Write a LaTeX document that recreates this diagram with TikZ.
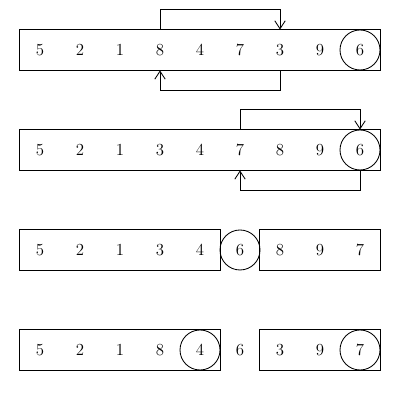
\documentclass[tikz,border=0pt]{standalone}
\usetikzlibrary{positioning,arrows.meta,fit}

\begin{document}
\begin{tikzpicture}[
    semithick, font=\large,
    cell/.style={minimum size=1cm, inner sep=0pt},
    pivot/.style={cell, draw, circle},
    part/.style={draw, rectangle, inner sep=0pt, fit=#1},
    arr/.style={-{Straight Barb[length=2mm, width=2.6mm]}}
  ]
  \useasboundingbox (0,0) rectangle (10,10);

  % ---- row 1: scan from both ends ----
  \foreach \v [count=\i] in {5,2,1,8,4,7,3,9}
    \node[cell] (r1c\i) at (\i,8.75) {\v};
  \node[pivot] (r1c9) at (9,8.75) {6};
  \node[part={(r1c1)(r1c9)}] (row1) {};
  \draw[arr] (r1c4.north) -- ++(0,0.5) -| (r1c7.north);
  \draw[arr] (r1c7.south) -- ++(0,-0.5) -| (r1c4.south);

  % ---- row 2: swap pivot into place ----
  \foreach \v [count=\i] in {5,2,1,3,4,7,8,9}
    \node[cell] (r2c\i) at (\i,6.25) {\v};
  \node[pivot] (r2c9) at (9,6.25) {6};
  \node[part={(r2c1)(r2c9)}] (row2) {};
  \draw[arr] (r2c6.north) -- ++(0,0.5) -| (r2c9.north);
  \draw[arr] (r2c9.south) -- ++(0,-0.5) -| (r2c6.south);

  % ---- row 3: partitioned ----
  \foreach \v [count=\i] in {5,2,1,3,4}
    \node[cell] (r3c\i) at (\i,3.75) {\v};
  \node[pivot] (r3c6) at (6,3.75) {6};
  \foreach \v [count=\i from 7] in {8,9,7}
    \node[cell] (r3c\i) at (\i,3.75) {\v};
  \node[part={(r3c1)(r3c5)}] (left3) {};
  \node[part={(r3c7)(r3c9)}] (right3) {};

  % ---- row 4: recurse on both halves ----
  \foreach \v [count=\i] in {5,2,1,8}
    \node[cell] (r4c\i) at (\i,1.25) {\v};
  \node[pivot] (r4c5) at (5,1.25) {4};
  \node[cell] (r4c6) at (6,1.25) {6};
  \foreach \v [count=\i from 7] in {3,9}
    \node[cell] (r4c\i) at (\i,1.25) {\v};
  \node[pivot] (r4c9) at (9,1.25) {7};
  \node[part={(r4c1)(r4c5)}] (left4) {};
  \node[part={(r4c7)(r4c9)}] (right4) {};

\end{tikzpicture}
\end{document}
